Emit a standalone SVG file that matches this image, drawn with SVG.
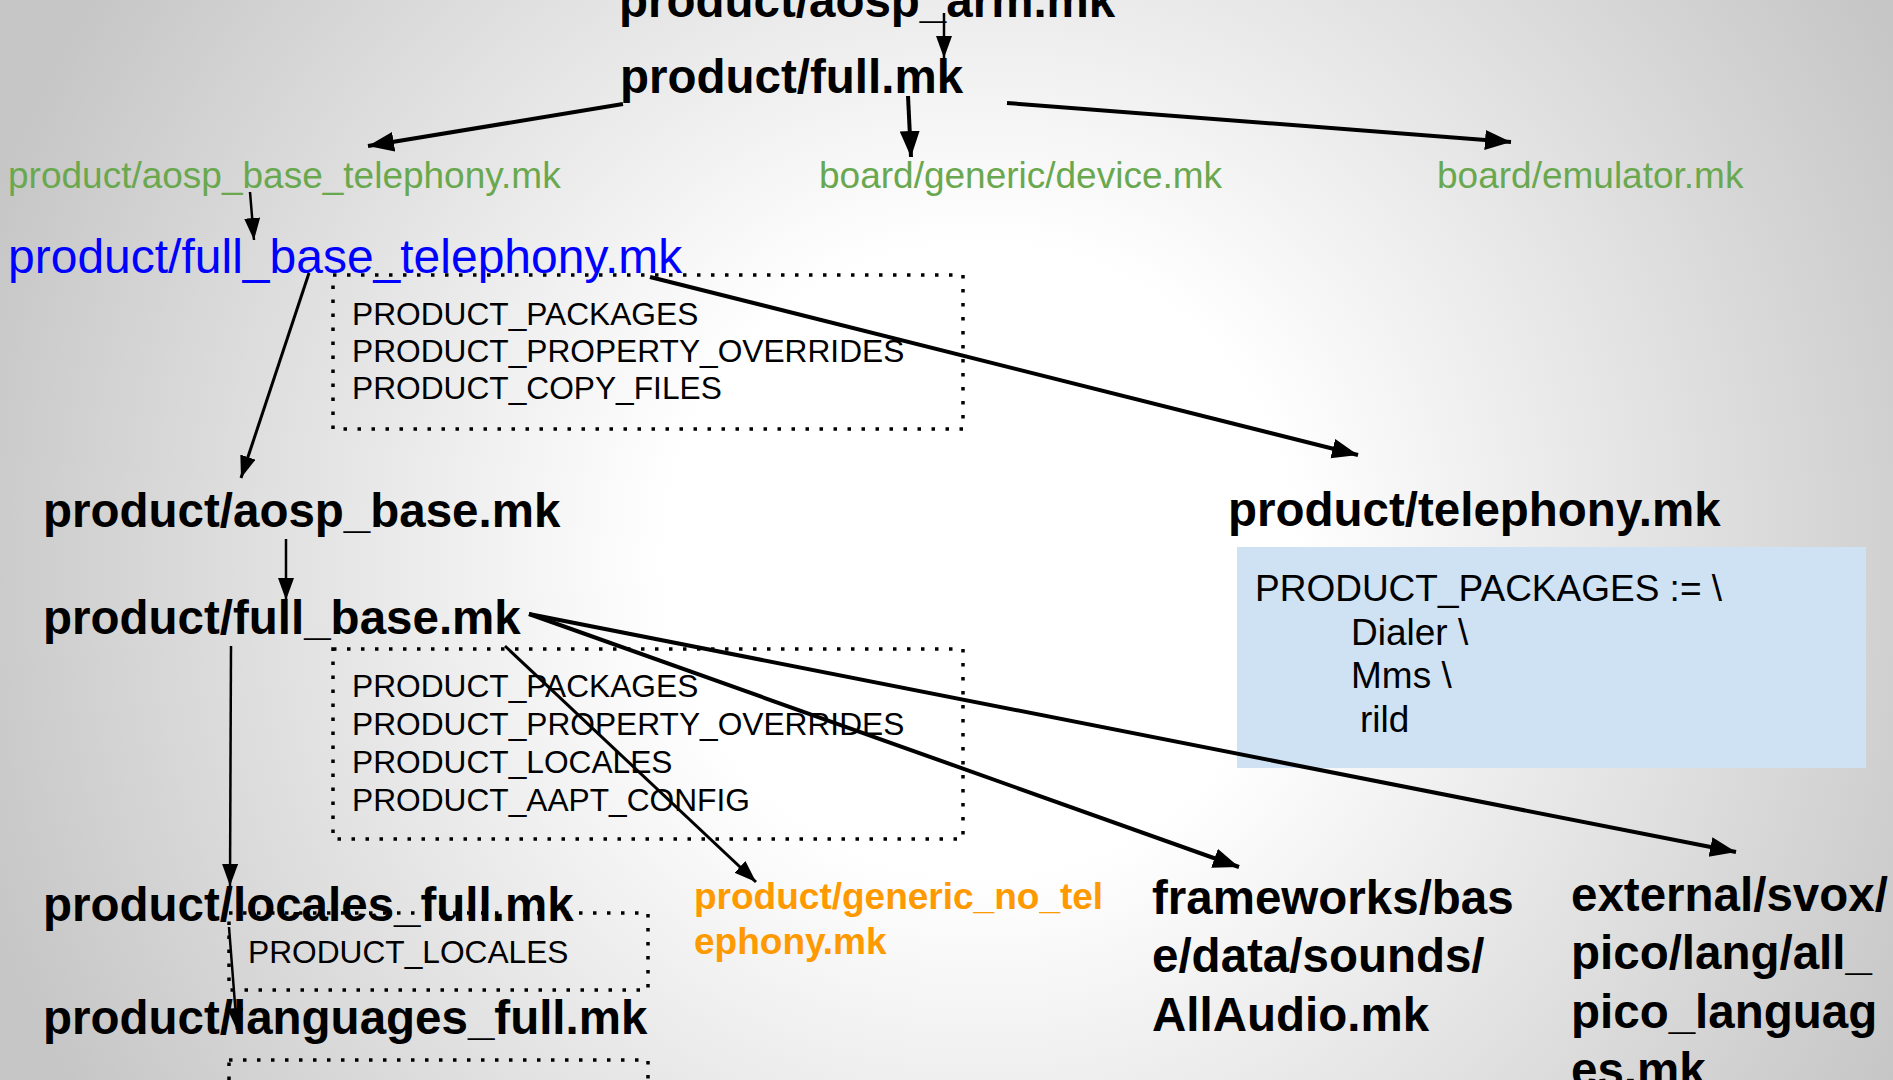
<svg xmlns="http://www.w3.org/2000/svg" width="1893" height="1080" viewBox="0 0 1893 1080">
<defs>
  <radialGradient id="bg" gradientUnits="userSpaceOnUse" cx="980" cy="560" r="1050">
    <stop offset="0" stop-color="#ffffff"/>
    <stop offset="0.3" stop-color="#ffffff"/>
    <stop offset="1" stop-color="#c6c6c6"/>
  </radialGradient>
  <marker id="ahL" markerUnits="userSpaceOnUse" markerWidth="28" markerHeight="22" refX="26" refY="10" orient="auto">
    <path d="M0,0 L26,10 L0,20 Z" fill="#000"/>
  </marker>
  <marker id="ahS" markerUnits="userSpaceOnUse" markerWidth="24" markerHeight="18" refX="22" refY="8" orient="auto">
    <path d="M0,0 L22,8 L0,16 Z" fill="#000"/>
  </marker>
  <style>
    .b { font-family: "Liberation Sans", Arial, sans-serif; font-weight: bold; font-size: 47.5px; fill: #000; }
    .g { font-family: "Liberation Sans", Arial, sans-serif; font-size: 37px; fill: #6aa84f; }
    .bl { font-family: "Liberation Sans", Arial, sans-serif; font-size: 48px; fill: #0000ff; }
    .o { font-family: "Liberation Sans", Arial, sans-serif; font-weight: bold; font-size: 37px; fill: #ff9900; }
    .v { font-family: "Liberation Sans", Arial, sans-serif; font-size: 31.7px; fill: #000; }
    .p { font-family: "Liberation Sans", Arial, sans-serif; font-size: 37px; fill: #000; }
    .dot { fill: none; stroke: #000; stroke-width: 3.5; stroke-dasharray: 3.5 10.5; }
    .c { fill: none; stroke: #000; }
    .w4 { stroke-width: 4; marker-end: url(#ahL); }
    .w3 { stroke-width: 3; marker-end: url(#ahS); }
    .w2 { stroke-width: 2.5; marker-end: url(#ahS); }
  </style>
</defs>
<rect x="0" y="0" width="1893" height="1080" fill="url(#bg)"/>

<g id="aosp_arm"><text class="b" x="619" y="17">product/aosp_arm.mk</text></g>
<g id="full"><text class="b" x="620" y="93">product/full.mk</text></g>
<g id="aosp_base_telephony"><text class="g" x="8" y="188">product/aosp_base_telephony.mk</text></g>
<g id="device"><text class="g" x="819" y="188">board/generic/device.mk</text></g>
<g id="emulator"><text class="g" x="1437" y="188">board/emulator.mk</text></g>
<g id="full_base_telephony"><text class="bl" x="8" y="273">product/full_base_telephony.mk</text></g>

<g id="vars1">
  <rect class="dot" x="333" y="275" width="630" height="154"/>
  <text class="v" x="352" y="325">PRODUCT_PACKAGES</text>
  <text class="v" x="352" y="362">PRODUCT_PROPERTY_OVERRIDES</text>
  <text class="v" x="352" y="399">PRODUCT_COPY_FILES</text>
</g>

<g id="aosp_base"><text class="b" x="43" y="527">product/aosp_base.mk</text></g>
<g id="full_base"><text class="b" x="43" y="634">product/full_base.mk</text></g>

<g id="vars2">
  <rect class="dot" x="333" y="649" width="630" height="190"/>
  <text class="v" x="352" y="697">PRODUCT_PACKAGES</text>
  <text class="v" x="352" y="735">PRODUCT_PROPERTY_OVERRIDES</text>
  <text class="v" x="352" y="773">PRODUCT_LOCALES</text>
  <text class="v" x="352" y="811">PRODUCT_AAPT_CONFIG</text>
</g>

<g id="telephony"><text class="b" x="1228" y="526">product/telephony.mk</text></g>
<g id="telephony_pkgs">
  <rect x="1237" y="547" width="629" height="221" fill="#cfe2f3"/>
  <text class="p" x="1255" y="601">PRODUCT_PACKAGES := \</text>
  <text class="p" x="1351" y="645">Dialer \</text>
  <text class="p" x="1351" y="688">Mms \</text>
  <text class="p" x="1360" y="732">rild</text>
</g>

<g id="locales_full">
  <rect class="dot" x="229" y="913" width="419" height="77"/>
  <text class="v" x="248" y="963">PRODUCT_LOCALES</text>
  <text class="b" x="43" y="921">product/locales_full.mk</text>
</g>
<g id="languages_full">
  <rect class="dot" x="229" y="1060" width="419" height="60"/>
  <text class="b" x="43" y="1034">product/languages_full.mk</text>
</g>

<g id="generic_no_telephony">
  <text class="o" x="694" y="909">product/generic_no_tel</text>
  <text class="o" x="694" y="954">ephony.mk</text>
</g>
<g id="allaudio">
  <text class="b" x="1152" y="914">frameworks/bas</text>
  <text class="b" x="1152" y="972">e/data/sounds/</text>
  <text class="b" x="1152" y="1031">AllAudio.mk</text>
</g>
<g id="pico">
  <text class="b" x="1571" y="911">external/svox/</text>
  <text class="b" x="1571" y="969">pico/lang/all_</text>
  <text class="b" x="1571" y="1028">pico_languag</text>
  <text class="b" x="1571" y="1086">es.mk</text>
</g>

<g id="connectors">
  <path class="c w2" d="M944,13 L944,58"/>
  <path class="c w4" d="M623,104 L368,146"/>
  <path class="c w4" d="M908,96 L911,157"/>
  <path class="c w4" d="M1007,103 L1511,142"/>
  <path class="c w2" d="M250,192 L254,240"/>
  <path class="c w3" d="M309,273 L241,478"/>
  <path class="c w4" d="M650,277 L1358,455"/>
  <path class="c w2" d="M286,539 L286,600"/>
  <path class="c w2" d="M231,646 L230,886"/>
  <path class="c w2" d="M229,927 L237,1030"/>
  <path class="c w3" d="M505,646 L756,882"/>
  <path class="c w4" d="M529,614 L1239,867"/>
  <path class="c w4" d="M529,614 L1736,852"/>
</g>
</svg>
